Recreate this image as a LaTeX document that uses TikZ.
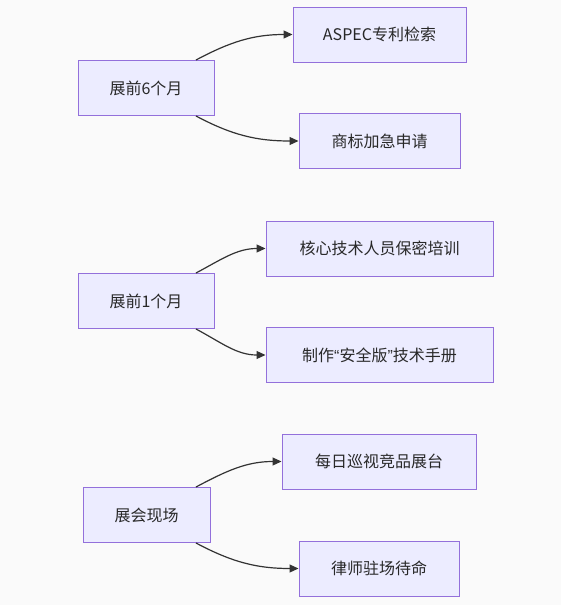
\documentclass[tikz,border=0pt]{standalone}
\usepackage{fontspec}
\setmainfont{Noto Sans CJK SC}
\newfontfamily\quotefont{Liberation Sans}
\usetikzlibrary{arrows.meta,positioning,calc}
\definecolor{boxfill}{RGB}{236,236,255}
\definecolor{boxline}{RGB}{147,112,219}
\definecolor{linkgray}{RGB}{51,51,51}
\definecolor{pagebg}{RGB}{250,250,250}
\definecolor{inkdark}{RGB}{40,40,40}

\begin{document}
\begin{tikzpicture}[
  x=1pt,
  y=-1pt,
  stage/.style={
    draw=boxline,
    fill=boxfill,
    line width=1pt,
    minimum height=55pt,
    inner sep=0pt,
    align=center,
    text=inkdark,
    font=\fontsize{16}{19}\selectfont
  },
  link/.style={
    -{Triangle[length=9pt,width=8pt]},
    line width=1.2pt,
    linkgray
  }
]

\fill[pagebg] (0,0) rectangle (561,605);
\useasboundingbox (0,0) rectangle (561,605);

% Six months before
\node[stage,minimum width=136pt] (m6) at (146,88) {展前6个月};
\node[stage,minimum width=173pt] (m6a) at (379.5,34.5) {ASPEC专利检索};
\node[stage,minimum width=161pt] (m6b) at (379.5,141) {商标加急申请};

% One month before
\node[stage,minimum width=136pt] (m1) at (146,301) {展前1个月};
\node[stage,minimum width=227pt] (m1a) at (379.5,248.5) {核心技术人员保密培训};
\node[stage,minimum width=227pt] (m1b) at (379.5,355)
  {制作{\quotefont “}安全版{\quotefont ”}技术手册};

% At the fair
\node[stage,minimum width=127pt] (fair) at (146.5,515) {展会现场};
\node[stage,minimum width=194pt] (faira) at (379,461.5) {每日巡视竞品展台};
\node[stage,minimum width=160pt] (fairb) at (379,568.5) {律师驻场待命};

% Links
\draw[link] ([xshift=50pt]m6.north) to[out=28,in=180] (m6a.west);
\draw[link] ([xshift=50pt]m6.south) to[out=-28,in=180] (m6b.west);

\draw[link] ([xshift=50pt]m1.north) to[out=28,in=180] (m1a.west);
\draw[link] ([xshift=50pt]m1.south) to[out=-28,in=180] (m1b.west);

\draw[link] ([xshift=49.5pt]fair.north) to[out=28,in=180] (faira.west);
\draw[link] ([xshift=49.5pt]fair.south) to[out=-28,in=180] (fairb.west);

\end{tikzpicture}
\end{document}
